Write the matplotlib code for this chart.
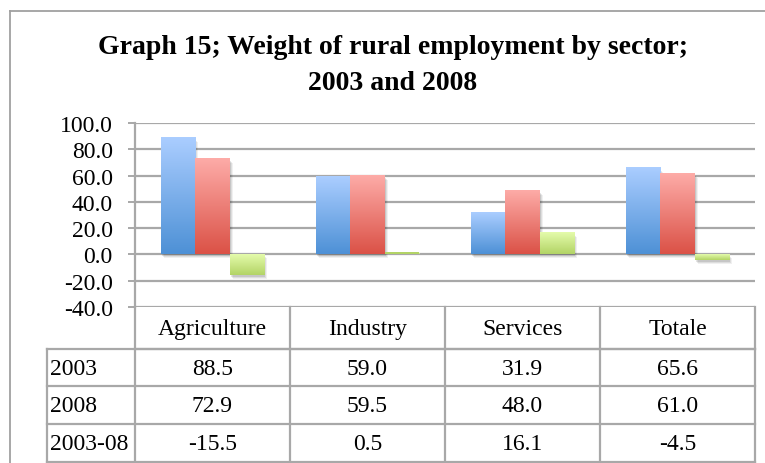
import numpy as np
import matplotlib
matplotlib.use("Agg")
import matplotlib.pyplot as plt
import matplotlib.transforms as mtransforms
from matplotlib.patches import Rectangle
from matplotlib.colors import LinearSegmentedColormap

plt.rcParams["font.family"] = ["Liberation Serif", "DejaVu Serif"]

# data
categories = ["Agriculture", "Industry", "Services", "Totale"]
series_names = ["2003", "2008", "2003-08"]
v2003 = [88.5, 59.0, 31.9, 65.6]
v2008 = [72.9, 59.5, 48.0, 61.0]
vdiff = [-15.5, 0.5, 16.1, -4.5]
yticks = [100, 80, 60, 40, 20, 0, -20, -40]

series = [v2003, v2008, vdiff]
# top / bottom gradient colours per series
grads = [("#aacdff", "#4e91d6"), ("#fdaba7", "#db5247"), ("#e4fbab", "#b3d466")]

W, H = 765, 464
fig = plt.figure(figsize=(W / 100, H / 100), dpi=100)
fs = 17

# plot area in pixels
px0, px1, py_top, py_bot = 135, 755, 124, 308
ax = fig.add_axes([px0 / W, 1 - py_bot / H, (px1 - px0) / W, (py_bot - py_top) / H])
ax.set_xlim(0, 4)
ax.set_ylim(-40, 100)

grid_col = "#a8a8a8"
for v in yticks:
    ax.axhline(v, color=grid_col, lw=1.6, zorder=0)
ax.set_yticks(yticks)
ax.set_yticklabels([f"{v:.1f}" for v in yticks], fontsize=fs)
ax.tick_params(axis="y", length=5, width=1.4, color=grid_col, pad=11)
ax.set_xticks([])
for s in ["top", "right", "bottom"]:
    ax.spines[s].set_visible(False)
ax.spines["left"].set_color(grid_col)
ax.spines["left"].set_linewidth(1.6)

w = 0.223
grad = np.linspace(0, 1, 64).reshape(-1, 1)
for k, (vals, (ctop, cbot)) in enumerate(zip(series, grads)):
    cmap = LinearSegmentedColormap.from_list(f"g{k}", [ctop, cbot])
    for i, v in enumerate(vals):
        xc = i + 0.5 + (k - 1) * w
        x0, x1 = xc - w / 2, xc + w / 2
        lo, hi = min(0, v), max(0, v)
        # soft drop shadow
        for j, a in enumerate([0.10, 0.08, 0.06]):
            tr = mtransforms.offset_copy(ax.transData, fig=fig, x=1 + j, y=-(2 + j), units="dots")
            ax.add_patch(Rectangle((x0, lo), w, hi - lo, transform=tr,
                                   facecolor="black", alpha=a, lw=0, zorder=1))
        ax.imshow(grad, extent=[x0, x1, lo, hi], aspect="auto", cmap=cmap,
                  origin="upper", zorder=2, interpolation="bilinear")
        if hi - lo < 1.5:
            # very small bars still show as a thin strip
            ax.add_patch(Rectangle((x0, lo), w, 1.5, facecolor=cbot, lw=0, zorder=2))
ax.set_xlim(0, 4)
ax.set_ylim(-40, 100)

# overlay in pixel coordinates for frame, title and data table
ov = fig.add_axes([0, 0, 1, 1], facecolor="none")
ov.set_xlim(0, W)
ov.set_ylim(H, 0)
ov.axis("off")

frame_col = "#a0a0a0"
ov.plot([10, 10], [12, H], color=frame_col, lw=1.3)
ov.plot([10, W], [12, 12], color=frame_col, lw=1.3)

ov.text(393, 48, "Graph 15; Weight of rural employment by sector;", ha="center", va="center",
        fontsize=20, fontweight="bold")
ov.text(393, 84, "2003 and 2008", ha="center", va="center", fontsize=20, fontweight="bold")

# table
col_edges = np.linspace(px0, px1, len(categories) + 1)
row_edges = [308, 350, 387, 425, 463]
lab_x0 = 47
tl = dict(color=grid_col, lw=1.6)
ov.plot([px0, px1], [row_edges[1], row_edges[1]], **tl)
for x in col_edges:
    ov.plot([x, x], [row_edges[0], row_edges[-1]], **tl)
for r in row_edges[1:]:
    ov.plot([lab_x0, px1], [r, r], **tl)
ov.plot([lab_x0, lab_x0], [row_edges[1], row_edges[-1]], **tl)

for i, c in enumerate(categories):
    xc = (col_edges[i] + col_edges[i + 1]) / 2
    ov.text(xc, (row_edges[0] + row_edges[1]) / 2 + 1, c, ha="center", va="center", fontsize=fs)
for r, (name, vals) in enumerate(zip(series_names, series)):
    yc = (row_edges[r + 1] + row_edges[r + 2]) / 2 + 1
    ov.text(lab_x0 + 3, yc, name, ha="left", va="center", fontsize=fs)
    for i, v in enumerate(vals):
        xc = (col_edges[i] + col_edges[i + 1]) / 2
        ov.text(xc, yc, f"{v:.1f}", ha="center", va="center", fontsize=fs)

fig.savefig("out.png", dpi=100)
